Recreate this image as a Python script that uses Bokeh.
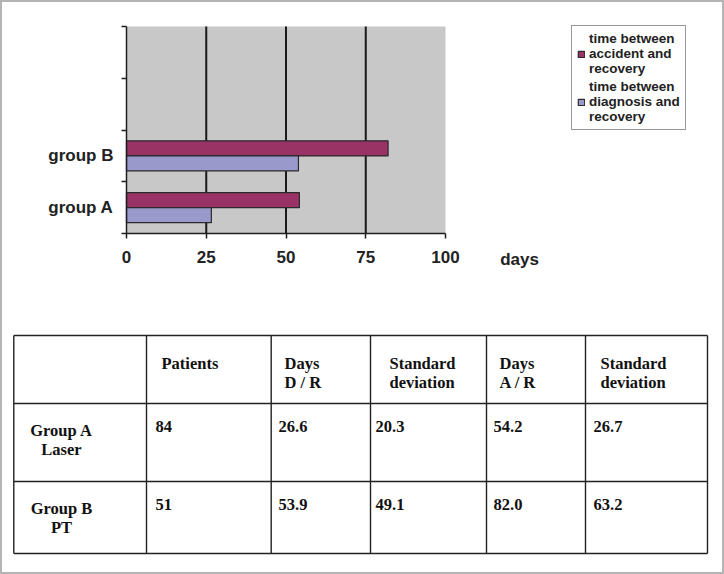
from bokeh.plotting import figure
from bokeh.models import FixedTicker, Range1d, Label, Legend, LegendItem, ColumnDataSource
from bokeh.transform import dodge
from bokeh.layouts import column
from bokeh.embed import file_html
from bokeh.resources import INLINE
from bokeh.core.properties import value

# ---------------- data ----------------
groups = ["group A", "group B"]
accident_recovery = [54.2, 82.0]      # time between accident and recovery
diagnosis_recovery = [26.6, 53.9]     # time between diagnosis and recovery
x_ticks = [0, 25, 50, 75, 100]
legend_labels = ["time between\naccident and\nrecovery",
                 "time between\ndiagnosis and\nrecovery"]
x_label = "days"

row_labels = ["Group A\nLaser", "Group B\nPT"]
header_labels = ["Patients", "Days\nD / R", "Standard\ndeviation", "Days\nA / R", "Standard\ndeviation"]
patients = ["84", "51"]
days_dr = ["26.6", "53.9"]
sd_dr = ["20.3", "49.1"]
days_ar = ["54.2", "82.0"]
sd_ar = ["26.7", "63.2"]

# ---------------- layout constants ----------------
W = 724
CH = 320            # chart figure height
TH = 254            # table figure height
SANS = "Liberation Sans"
SERIF = "Liberation Serif"
DARK = "#1e1e1e"
n_slots = 4

# chart frame = whole chart figure; plot area x 126..445, y 26..233 (pixels)
FL, FR, FT, FB = 0, W, 0, CH
PX0, PX1, PY0, PY1 = 126.0, 445.0, 233.0, 26.0
sx = (PX1 - PX0) / (x_ticks[-1] - x_ticks[0])
sy = (PY0 - PY1) / n_slots
x_rng = Range1d(x_ticks[0] + (FL - PX0) / sx, x_ticks[0] + (FR - PX0) / sx)
y_rng = Range1d((PY0 - FB) / sy, (PY0 - FT) / sy)

p = figure(width=W, height=CH, x_range=x_rng, y_range=y_rng,
           output_backend="svg", toolbar_location=None,
           min_border_left=FL, min_border_right=W - FR, min_border_top=FT,
           min_border_bottom=CH - FB)
p.frame_align = False
p.background_fill_alpha = 0
p.border_fill_alpha = 0
p.outline_line_color = None
p.grid.grid_line_color = None

# grey plot area and vertical grid lines
p.quad(left=x_ticks[0], right=x_ticks[-1], bottom=0, top=n_slots,
       fill_color="#c8c8c9", line_color=None)
p.segment(x0=x_ticks[1:-1], y0=0, x1=x_ticks[1:-1], y1=n_slots,
          line_color="#1a1a1a", line_width=2)

yc = [i + 0.5 for i in range(len(groups))]
src = ColumnDataSource(dict(y=yc, acc=accident_recovery, dia=diagnosis_recovery))
r1 = p.hbar(y=dodge("y", 0.145, range=p.y_range), left=0, right="acc", height=0.29,
            fill_color="#993366", line_color="#2a2a2a", line_width=1.2, source=src)
r2 = p.hbar(y=dodge("y", -0.145, range=p.y_range), left=0, right="dia", height=0.29,
            fill_color="#9999cc", line_color="#2a2a2a", line_width=1.2, source=src)

xa = p.xaxis[0]
xa.fixed_location = 0
xa.bounds = (x_ticks[0], x_ticks[-1])
xa.ticker = FixedTicker(ticks=x_ticks)
xa.major_tick_in = 0
xa.major_tick_out = 5
xa.major_tick_line_color = DARK
xa.major_tick_line_width = 1.5
xa.minor_tick_line_color = None
xa.axis_line_color = DARK
xa.axis_line_width = 1.5
xa.major_label_text_font = SANS
xa.major_label_text_font_style = "bold"
xa.major_label_text_font_size = "17px"
xa.major_label_text_color = "#222222"
xa.major_label_standoff = 12

ya = p.yaxis[0]
ya.fixed_location = 0
ya.bounds = (0, n_slots)
ya.ticker = FixedTicker(ticks=yc, minor_ticks=list(range(n_slots + 1)))
ya.major_label_overrides = {v: g for v, g in zip(yc, groups)}
ya.major_tick_line_color = None
ya.major_tick_in = 0
ya.major_tick_out = 0
ya.minor_tick_in = 0
ya.minor_tick_out = 5
ya.minor_tick_line_color = DARK
ya.minor_tick_line_width = 1.5
ya.axis_line_color = DARK
ya.axis_line_width = 1.5
ya.major_label_text_font = SANS
ya.major_label_text_font_style = "bold"
ya.major_label_text_font_size = "17px"
ya.major_label_text_color = "#222222"
ya.major_label_standoff = 8

p.add_layout(Label(x=123.2, y=-0.5, text=x_label, text_font=SANS, text_font_style="bold",
                   text_font_size="17px", text_color="#222222",
                   text_align="center", text_baseline="middle"))

legend = Legend(items=[LegendItem(label=legend_labels[0], renderers=[r1]),
                       LegendItem(label=legend_labels[1], renderers=[r2])],
                location=(571 - FL, FB - 130))
legend.label_text_font = SANS
legend.label_text_font_style = "bold"
legend.label_text_font_size = "13.5px"
legend.label_text_line_height = 1.0
legend.label_text_color = "#222222"
legend.glyph_width = 8
legend.glyph_height = 8
legend.padding = 5
legend.spacing = 3
legend.margin = 0
legend.label_standoff = 4
legend.border_line_color = "#333333"
legend.border_line_width = 1.2
legend.background_fill_color = "white"
legend.background_fill_alpha = 1
p.add_layout(legend)

# ---------------- table ----------------
t = figure(width=W, height=TH, x_range=Range1d(0, W), y_range=Range1d(TH, 0),
           output_backend="svg", toolbar_location=None, min_border=0,
           x_axis_type=None, y_axis_type=None)
t.frame_align = False
t.background_fill_alpha = 0
t.border_fill_alpha = 0
t.outline_line_color = None
t.grid.grid_line_color = None

col_x = [13.3, 146, 270.7, 370, 486, 585, 707]
row_y = [15, 83, 161, 233]
t.segment(x0=col_x, y0=[row_y[0]] * len(col_x), x1=col_x, y1=[row_y[-1]] * len(col_x),
          line_color="#222222", line_width=1.4)
t.segment(x0=[col_x[0]] * len(row_y), y0=row_y, x1=[col_x[-1]] * len(row_y), y1=row_y,
          line_color="#222222", line_width=1.4)

font_kw = dict(text_font=value(SERIF), text_font_style="bold", text_font_size="16.5px",
               text_color="#111111", text_baseline="top", text_line_height=1.0)

hdr_top, rowA_top, rowB_top = 33, 100, 178
hdr_x = [161, 284, 389, 499, 600]
t.text(x=hdr_x, y=[hdr_top] * len(hdr_x), text=header_labels, text_align="left", **font_kw)

t.text(x=[61, 61], y=[rowA_top, rowB_top], text=row_labels, text_align="center", **font_kw)

val_x = [155, 278, 375, 493, 593]
cols = [patients, days_dr, sd_dr, days_ar, sd_ar]
for i, ry in enumerate([rowA_top, rowB_top]):
    t.text(x=val_x, y=[ry] * len(val_x), text=[c[i] for c in cols], text_align="left", **font_kw)

layout = column(p, t, spacing=0,
                styles={"box-shadow": "inset 0 0 0 2px #b4b4b4", "background-color": "white"})
open("out.html", "w").write(file_html(layout, INLINE))
